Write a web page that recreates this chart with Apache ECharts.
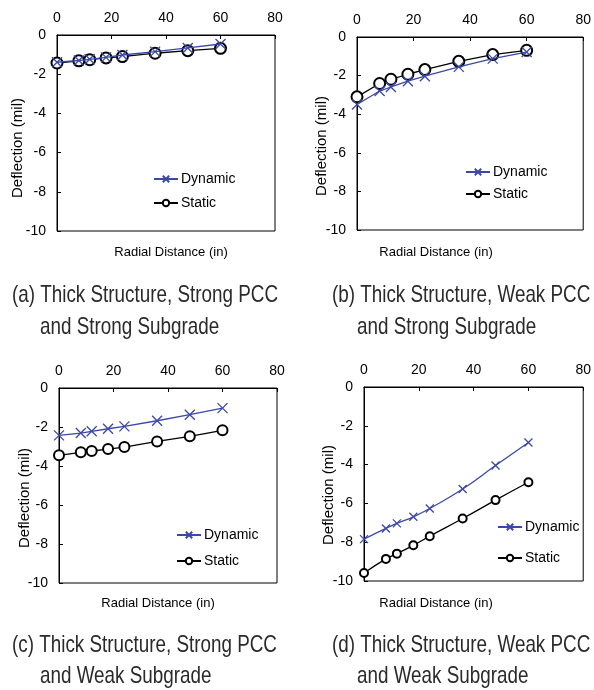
<!DOCTYPE html>
<html>
<head>
<meta charset="utf-8">
<script src="https://cdn.jsdelivr.net/npm/echarts@6/dist/echarts.min.js"></script>
<style>
html,body{margin:0;padding:0;background:#fff;}
#c{width:594px;height:690px;}
</style>
</head>
<body>
<div id="c"></div>
<script>
// ---- data ----
var distances = [0, 8, 12, 18, 24, 36, 48, 60];
var aDynamic = [-1.39, -1.30, -1.24, -1.14, -1.02, -0.85, -0.66, -0.46];
var aStatic  = [-1.43, -1.32, -1.26, -1.17, -1.10, -0.93, -0.80, -0.68];
var bDynamic = [-3.50, -2.80, -2.59, -2.29, -2.03, -1.55, -1.12, -0.78];
var bStatic  = [-3.10, -2.41, -2.19, -1.93, -1.69, -1.26, -0.91, -0.69];
var cDynamic = [-2.43, -2.31, -2.22, -2.09, -1.97, -1.68, -1.37, -1.03];
var cStatic  = [-3.45, -3.30, -3.23, -3.13, -3.03, -2.74, -2.48, -2.17];
var dDynamic = [-7.84, -7.29, -7.03, -6.69, -6.26, -5.26, -4.05, -2.86];
var dStatic  = [-9.59, -8.86, -8.59, -8.16, -7.69, -6.78, -5.83, -4.91];
var seriesNames = ['Dynamic', 'Static'];
var xAxisTitle = 'Radial Distance (in)';
var yAxisTitle = 'Deflection (mil)';
var captions = [
  ['(a) Thick Structure, Strong PCC', 'and Strong Subgrade'],
  ['(b) Thick Structure, Weak PCC', 'and Strong Subgrade'],
  ['(c) Thick Structure, Strong PCC', 'and Weak Subgrade'],
  ['(d) Thick Structure, Weak PCC', 'and Weak Subgrade']
];

// ---- layout ----
var FONT = "Liberation Sans, Arial, sans-serif";
var CAPFONT = "Liberation Sans, Arial, sans-serif";
var CAPSIZE = 24;
var BLUE = '#3b48a6';
var panels = [
  {grid:{left:57, top:35, width:218, height:196}, dyn:aDynamic, sta:aStatic, smooth:false,
   legend:{left:153, top:172, gap:10}, xt:[171,252], yt:[18,148], cap:[[12,295],[40,327]], sym:[10,11]},
  {grid:{left:357, top:37, width:228, height:193}, dyn:bDynamic, sta:bStatic, smooth:false,
   legend:{left:465, top:165, gap:8}, xt:[436,252], yt:[322,146], cap:[[332,295],[357,327]], sym:[10,11]},
  {grid:{left:59, top:388, width:218, height:195}, dyn:cDynamic, sta:cStatic, smooth:false,
   legend:{left:176, top:528, gap:12}, xt:[158,603], yt:[25,498], cap:[[12,645],[40,676]], sym:[10,10]},
  {grid:{left:364, top:387, width:225, height:194}, dyn:dDynamic, sta:dStatic, smooth:true,
   legend:{left:497, top:520, gap:17}, xt:[436,603], yt:[329,495], cap:[[332,645],[357,676]], sym:[8,8]}
];

// horizontal squeeze so the caption matches the narrow face of the original
var mctx = document.createElement('canvas').getContext('2d');
mctx.font = CAPSIZE + 'px ' + CAPFONT;
var capScale = 266 / mctx.measureText(captions[0][0]).width;

function pairs(xs, ys){ return xs.map(function(x,i){ return [x, ys[i]]; }); }

var option = {
  animation:false,
  backgroundColor:'#fff',
  grid:[], xAxis:[], yAxis:[], series:[], legend:[], graphic:[]
};

panels.forEach(function(p, i){
  option.grid.push({left:p.grid.left, top:p.grid.top, width:p.grid.width, height:p.grid.height,
    show:true, borderColor:'#000', borderWidth:1, backgroundColor:'transparent'});
  option.xAxis.push({
    type:'value', gridIndex:i, position:'top', min:0, max:80, interval:20,
    axisLine:{show:true, onZero:false, lineStyle:{color:'#000', width:1}},
    axisTick:{show:true, inside:true, length:4, lineStyle:{color:'#000'}},
    axisLabel:{color:'#000', fontSize:14, fontFamily:FONT, margin:10},
    splitLine:{show:false}
  });
  option.yAxis.push({
    type:'value', gridIndex:i, min:-10, max:0, interval:2,
    axisLine:{show:true, onZero:false, lineStyle:{color:'#000', width:1}},
    axisTick:{show:true, inside:true, length:4, lineStyle:{color:'#000'}},
    axisLabel:{color:'#000', fontSize:14, fontFamily:FONT, margin:11},
    splitLine:{show:false}
  });
  option.series.push({
    name:seriesNames[0], type:'line', xAxisIndex:i, yAxisIndex:i,
    data:pairs(distances, p.dyn), smooth:p.smooth,
    symbol:'path://M0,0L10,10M10,0L0,10', symbolSize:p.sym[0],
    lineStyle:{color:BLUE, width:1.3},
    itemStyle:{color:BLUE, borderColor:BLUE, borderWidth:1.3},
    z:3
  });
  option.series.push({
    name:seriesNames[1], type:'line', xAxisIndex:i, yAxisIndex:i,
    data:pairs(distances, p.sta), smooth:p.smooth,
    symbol:'emptyCircle', symbolSize:p.sym[1],
    lineStyle:{color:'#000', width:1.3},
    itemStyle:{color:'#000', borderColor:'#000', borderWidth:1.3},
    z:2
  });
  option.legend.push({
    data:seriesNames, orient:'vertical', left:p.legend.left, top:p.legend.top,
    itemWidth:24, itemHeight:8, itemGap:p.legend.gap, padding:0, selectedMode:false,
    textStyle:{color:'#000', fontSize:14, fontFamily:FONT, lineHeight:14, padding:[0,0,0,-2]}
  });
  option.graphic.push({
    type:'text', x:p.xt[0], y:p.xt[1],
    style:{text:xAxisTitle, font:'13px ' + FONT, fill:'#000', textAlign:'center', textVerticalAlign:'middle'}
  });
  option.graphic.push({
    type:'text', x:p.yt[0], y:p.yt[1], rotation:Math.PI / 2,
    style:{text:yAxisTitle, font:'15px ' + FONT, fill:'#000', textAlign:'center', textVerticalAlign:'middle'}
  });
  option.graphic.push({
    type:'text', x:p.cap[0][0], y:p.cap[0][1], scaleX:capScale,
    style:{text:captions[i][0], font:CAPSIZE + 'px ' + CAPFONT, fill:'#2a2a2a', textAlign:'left', textVerticalAlign:'middle'}
  });
  option.graphic.push({
    type:'text', x:p.cap[1][0], y:p.cap[1][1], scaleX:capScale,
    style:{text:captions[i][1], font:CAPSIZE + 'px ' + CAPFONT, fill:'#2a2a2a', textAlign:'left', textVerticalAlign:'middle'}
  });
});

var chart = echarts.init(document.getElementById('c'), null, {renderer:'canvas'});
chart.setOption(option);
</script>
</body>
</html>
